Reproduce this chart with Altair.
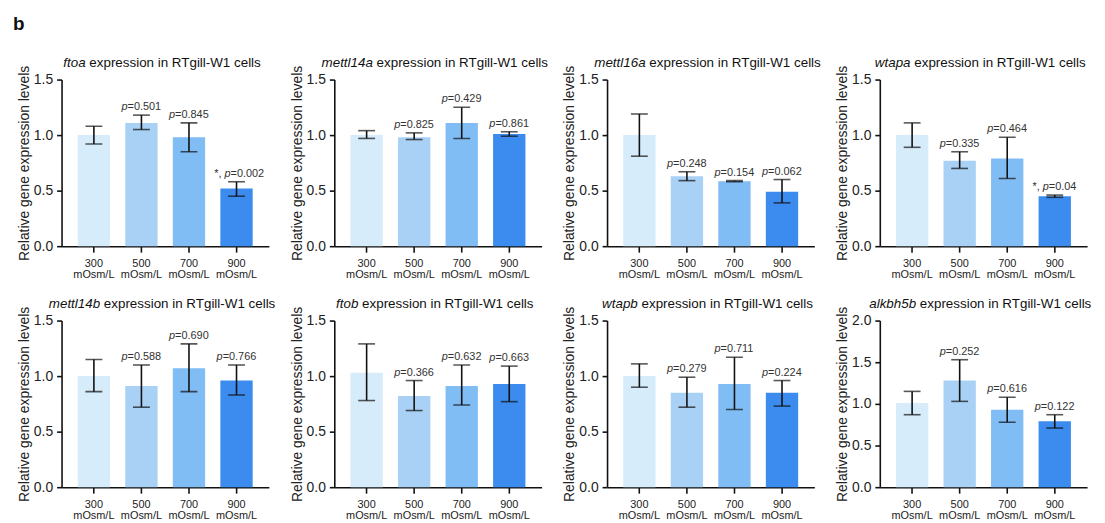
import altair as alt
import pandas as pd

conditions = ["300", "500", "700", "900"]
genes = ["ftoa", "mettl14a", "mettl16a", "wtapa", "mettl14b", "ftob", "wtapb", "alkbh5b"]

means = {
    "ftoa":     [1.00, 1.11, 0.98, 0.52],
    "mettl14a": [1.00, 0.98, 1.11, 1.01],
    "mettl16a": [1.00, 0.63, 0.585, 0.49],
    "wtapa":    [1.00, 0.77, 0.79, 0.45],
    "mettl14b": [1.00, 0.91, 1.07, 0.96],
    "ftob":     [1.03, 0.82, 0.91, 0.93],
    "wtapb":    [1.00, 0.85, 0.93, 0.85],
    "alkbh5b":  [1.01, 1.28, 0.93, 0.79],
}
err_low = {
    "ftoa":     [0.92, 1.05, 0.85, 0.45],
    "mettl14a": [0.97, 0.96, 0.97, 0.99],
    "mettl16a": [0.81, 0.59, 0.58, 0.39],
    "wtapa":    [0.89, 0.70, 0.61, 0.44],
    "mettl14b": [0.86, 0.72, 0.86, 0.83],
    "ftob":     [0.78, 0.69, 0.74, 0.77],
    "wtapb":    [0.90, 0.72, 0.70, 0.73],
    "alkbh5b":  [0.87, 1.03, 0.78, 0.71],
}
err_high = {
    "ftoa":     [1.08, 1.18, 1.11, 0.58],
    "mettl14a": [1.04, 1.02, 1.25, 1.03],
    "mettl16a": [1.19, 0.67, 0.59, 0.60],
    "wtapa":    [1.11, 0.85, 0.98, 0.46],
    "mettl14b": [1.15, 1.10, 1.29, 1.10],
    "ftob":     [1.29, 0.96, 1.10, 1.09],
    "wtapb":    [1.11, 0.99, 1.17, 0.96],
    "alkbh5b":  [1.15, 1.53, 1.08, 0.87],
}
p_values = {
    "ftoa":     ["", "0.501", "0.845", "0.002"],
    "mettl14a": ["", "0.825", "0.429", "0.861"],
    "mettl16a": ["", "0.248", "0.154", "0.062"],
    "wtapa":    ["", "0.335", "0.464", "0.04"],
    "mettl14b": ["", "0.588", "0.690", "0.766"],
    "ftob":     ["", "0.366", "0.632", "0.663"],
    "wtapb":    ["", "0.279", "0.711", "0.224"],
    "alkbh5b":  ["", "0.252", "0.616", "0.122"],
}
significant = {
    "ftoa":  [False, False, False, True],
    "wtapa": [False, False, False, True],
}
y_max = {"alkbh5b": 2.0}
y_ticks = {"alkbh5b": [0.0, 0.5, 1.0, 1.5, 2.0]}
default_ticks = [0.0, 0.5, 1.0, 1.5]

bar_colors = ["#d6ecfb", "#a9d1f6", "#80bdf5", "#3b8cee"]

FONT = "Liberation Sans"
W, H = 209, 168

AW = {'a': 556, 'b': 556, 'c': 500, 'd': 556, 'e': 556, 'f': 278, 'g': 556, 'h': 556, 'i': 222,
      'j': 222, 'k': 500, 'l': 222, 'm': 833, 'n': 556, 'o': 556, 'p': 556, 'q': 556, 'r': 333,
      's': 500, 't': 278, 'u': 556, 'v': 500, 'w': 722, 'x': 500, 'y': 500, 'z': 500, ' ': 278,
      'R': 722, 'T': 611, 'W': 944, '-': 333, '.': 278, '=': 584, '*': 389, ',': 278}


def text_width(s, size):
    return sum(AW.get(c, 556) for c in s) * size / 1000.0


TITLE_SIZE = 13.5
REST = "expression in RTgill-W1 cells"
P_SIZE = 11


def panel(g, idx):
    ymax = y_max.get(g, 1.5)
    sig = significant.get(g, [False] * 4)
    df = pd.DataFrame({
        "cond": conditions,
        "mean": means[g],
        "lo": err_low[g],
        "hi": err_high[g],
        "pv": p_values[g],
        "sig": sig,
    })
    df["rest"] = "=" + df["pv"]
    base = alt.Chart(df)
    xenc = alt.X(
        "cond:N", sort=conditions,
        scale=alt.Scale(paddingInner=0.32, paddingOuter=0.34),
        axis=alt.Axis(title=None, labelAngle=0, labelExpr="[datum.label, 'mOsm/L']",
                      labelFontSize=11, labelLineHeight=11.5, labelPadding=5,
                      tickSize=6, labelColor="#222"),
    )
    yscale = alt.Scale(domain=[0, ymax], nice=False)
    yenc = alt.Y(
        "mean:Q", scale=yscale,
        axis=alt.Axis(values=y_ticks.get(g, default_ticks), format=".1f",
                      title="Relative gene expression levels",
                      titleFontSize=14, titleFontWeight="normal", titlePadding=2,
                      labelFontSize=14, labelPadding=4, tickSize=5, labelColor="#222",
                      titleColor="#222"),
    )
    bars = base.mark_bar().encode(
        x=xenc, y=yenc,
        color=alt.Color("cond:N", scale=alt.Scale(domain=conditions, range=bar_colors), legend=None),
    )
    xs = alt.X("cond:N", sort=conditions)
    rule = base.mark_rule(color="#111", strokeWidth=1.6).encode(
        x=xs, y=alt.Y("lo:Q", scale=yscale), y2="hi:Q")
    cap_lo = base.mark_tick(color="#111", thickness=1.6, size=17).encode(
        x=xs, y=alt.Y("lo:Q", scale=yscale))
    cap_hi = base.mark_tick(color="#111", thickness=1.6, size=17).encode(
        x=xs, y=alt.Y("hi:Q", scale=yscale))

    lab = dict(fontSize=P_SIZE, font=FONT, color="#333", baseline="alphabetic", dy=-5)
    normal = base.transform_filter("datum.pv != '' && !datum.sig")
    split_n = -14.0
    p_n = normal.mark_text(align="right", fontStyle="italic", dx=split_n, **lab).encode(
        x=xs, y=alt.Y("hi:Q", scale=yscale), text=alt.value("p"))
    r_n = normal.mark_text(align="left", dx=split_n, **lab).encode(
        x=xs, y=alt.Y("hi:Q", scale=yscale), text="rest:N")
    starred = base.transform_filter("datum.sig")
    split_s = -6.0
    pw = text_width("p", P_SIZE)
    sp = text_width(" ", P_SIZE)
    s_s = starred.mark_text(align="right", dx=split_s - pw - sp, **lab).encode(
        x=xs, y=alt.Y("hi:Q", scale=yscale), text=alt.value("*,"))
    p_s = starred.mark_text(align="right", fontStyle="italic", dx=split_s, **lab).encode(
        x=xs, y=alt.Y("hi:Q", scale=yscale), text=alt.value("p"))
    r_s = starred.mark_text(align="left", dx=split_s, **lab).encode(
        x=xs, y=alt.Y("hi:Q", scale=yscale), text="rest:N")

    # panel title (gene name italic)
    gw = text_width(g, TITLE_SIZE)
    spw = text_width(" ", TITLE_SIZE)
    total = gw + spw + text_width(REST, TITLE_SIZE)
    center = W / 2 - 3
    split = center - total / 2 + gw
    tdf = alt.Chart(pd.DataFrame({"g": [g], "rest": [REST]}))
    t1 = tdf.mark_text(align="right", fontStyle="italic", fontSize=TITLE_SIZE, font=FONT,
                       color="#111", baseline="alphabetic").encode(
        x=alt.value(split), y=alt.value(-13), text="g:N")
    t2 = tdf.mark_text(align="left", fontSize=TITLE_SIZE, font=FONT,
                       color="#111", baseline="alphabetic").encode(
        x=alt.value(split + spw), y=alt.value(-13), text="rest:N")

    layers = [bars, rule, cap_lo, cap_hi, p_n, r_n, t1, t2]
    if any(sig):
        layers += [s_s, p_s, r_s]
    if idx == 0:
        blabel = alt.Chart(pd.DataFrame({"b": ["b"]})).mark_text(
            align="left", fontSize=19, fontWeight="bold", font=FONT, color="#111",
            baseline="alphabetic").encode(x=alt.value(-49), y=alt.value(-50), text="b:N")
        layers.append(blabel)
    return alt.layer(*layers).properties(width=W, height=H)


panels = [panel(g, i) for i, g in enumerate(genes)]

chart = alt.concat(*panels, columns=4, spacing={"row": 75, "column": 66}, bounds="flush").configure_view(
    stroke=None
).configure_axis(
    domainColor="#111", domainWidth=1.6, tickColor="#111", tickWidth=1.6, grid=False,
    labelFont=FONT, titleFont=FONT,
).configure_text(font=FONT).properties(background="white")

chart.save("out.html", embed_options={"renderer": "svg", "actions": False})
